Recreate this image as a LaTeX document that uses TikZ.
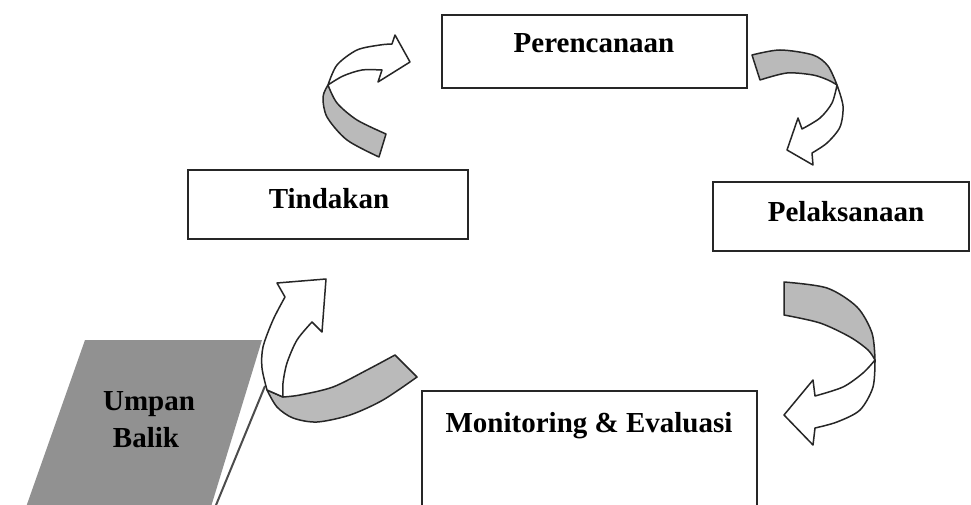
\documentclass[tikz,border=0pt]{standalone}
\usepackage{fontspec}
\setmainfont{Liberation Serif}
\begin{document}
\begin{tikzpicture}[x=1pt,y=-1pt,
  box/.style={draw=black!85, line width=1.7pt, fill=white, inner sep=0pt},
  lbl/.style={font=\fontsize{29}{34}\selectfont\bfseries, text=black, anchor=base, inner sep=0pt},
  arrw/.style={draw=black!85, line width=1.5pt, line join=round, fill=white},
  arrg/.style={arrw, fill=black!27},
  ubfill/.style={fill=black!43},
  ubshadow/.style={draw=black!70, line width=2pt}]
\path[use as bounding box] (0,0) rectangle (971,505);
\clip (0,0) rectangle (971,505);
\fill[white] (0,0) rectangle (971,505);

% boxes
\node[box, minimum width=305pt, minimum height=73pt] (per) at (594.5,51.5) {};
\node[box, minimum width=280pt, minimum height=69pt] (tin) at (328,204.5) {};
\node[box, minimum width=256pt, minimum height=69pt] (pel) at (841,216.5) {};
\node[box, minimum width=335pt, minimum height=129pt] (mon) at (589.5,455.5) {};

\node[lbl] (perT) at (594,53) {Perencanaan};
\node[lbl] (tinT) at (329,208) {Tindakan};
\node[lbl] (pelT) at (846,221) {Pelaksanaan};
\node[lbl] (monT) at (589,432) {Monitoring \& Evaluasi};

% Umpan Balik
\fill[ubfill] (85,340) -- (262,340) -- (210,510) -- (25,510) -- cycle;
\draw[ubshadow] (265,386) -- (214,510);
\node[lbl] (ub1) at (149,410) {Umpan};
\node[lbl] (ub2) at (146,447) {Balik};

% arrow 1: Tindakan -> Perencanaan
\draw[arrg] plot[smooth] coordinates {(379,157) (347,140) (327,117) (323,97) (328,85)}
  -- plot[smooth] coordinates {(328,85) (337,103) (357,120) (386,134)} -- cycle;
\draw[arrw] plot[smooth] coordinates {(328,85) (337,65) (357,50) (380,45) (392,44)}
  -- (395,35) -- (410,62) -- (378,82) -- (382,70)
  -- plot[smooth] coordinates {(382,70) (362,70) (343,76) (328,85)} -- cycle;

% arrow 2: Perencanaan -> Pelaksanaan
\draw[arrg] plot[smooth] coordinates {(752,55) (780,50) (813,55) (828,66) (837,85)}
  -- plot[smooth] coordinates {(837,85) (828,80) (813,75) (787,73) (760,80)} -- cycle;
\draw[arrw] plot[smooth] coordinates {(837,85) (843,106) (840,127) (827,143) (812,153)}
  -- (813,165) -- (787,150) -- (798,118) -- (802,129)
  -- plot[smooth] coordinates {(802,129) (820,118) (832,103) (837,85)} -- cycle;

% arrow 3: Pelaksanaan -> Monitoring
\draw[arrg] plot[smooth] coordinates {(784,282) (827,288) (857,307) (872,333) (875,360)}
  -- plot[smooth] coordinates {(875,360) (868,350) (850,337) (820,323) (784,315)} -- cycle;
\draw[arrw] plot[smooth] coordinates {(875,360) (873,387) (860,410) (837,422) (815,428)}
  -- (813,445) -- (784,415) -- (813,380) -- (815,396)
  -- plot[smooth] coordinates {(815,396) (843,387) (863,373) (875,360)} -- cycle;

% arrow 4: Monitoring -> Tindakan
\draw[arrg] plot[smooth] coordinates {(395,355) (367,370) (333,387) (300,395) (283,397)}
  -- (267,390)
  -- plot[smooth] coordinates {(267,390) (277,407) (293,418) (317,422) (350,415) (383,400) (417,377)} -- cycle;
\draw[arrw] plot[smooth] coordinates {(267,390) (262,368) (263,347) (273,320) (285,297)}
  -- (277,283) -- (326,279) -- (322,332) -- (312,322)
  -- plot[smooth] coordinates {(312,322) (297,340) (287,363) (283,383) (283,397)} -- cycle;
\end{tikzpicture}
\end{document}
